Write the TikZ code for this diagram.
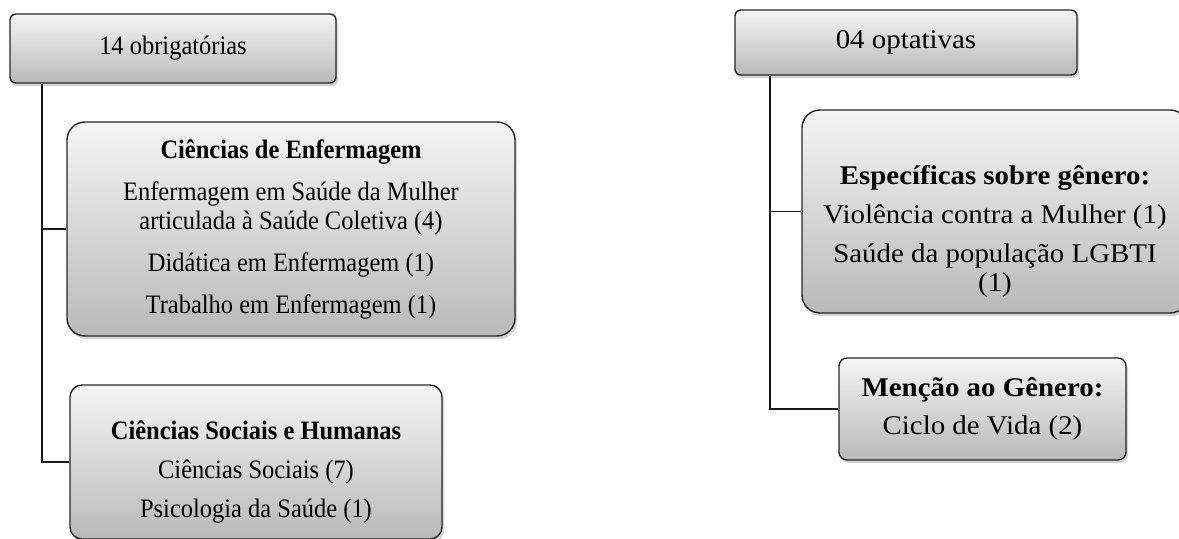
\documentclass[tikz,border=0pt]{standalone}
\usepackage{fontspec}
\setmainfont{Liberation Serif}
\newfontfamily\leftserif[FakeStretch=0.92]{Liberation Serif}
\newfontfamily\rightserif[FakeStretch=1.07]{Liberation Serif}
\usetikzlibrary{shadows}

\begin{document}
\begin{tikzpicture}[x=0.5pt, y=-0.5pt,
          catbox/.style={rectangle, draw=black!85, line width=0.7pt, top color=gray!8, bottom color=gray!55, drop shadow={shadow xshift=1pt, shadow yshift=-1.6pt, opacity=0.35}, inner sep=0pt},
          lefttext/.style={align=center, inner sep=0pt, font=\leftserif\fontsize{13.3}{14.5}\selectfont},
          righttext/.style={align=center, inner sep=0pt, font=\rightserif\fontsize{13.5}{14.5}\selectfont},
          link/.style={draw=black!90, line width=0.7pt}
        ]
          \clip (0,0) rectangle (1179,539);
          % left column
          \node (obrig) [catbox, rounded corners=3pt, minimum width=163pt, minimum height=34.5pt] at (173,48.5) {};
          \node (obrig-t) [lefttext] at (obrig.center) {14 obrigatórias};
          \node (enferm) [catbox, rounded corners=9pt, minimum width=224pt, minimum height=107pt] at (291,229) {};
          \node (enferm-t) [lefttext] at (enferm.center)
            {\textbf{Ciências de Enfermagem}\\[6.5pt]Enfermagem em Saúde da Mulher\\articulada à Saúde Coletiva (4)\\[6.5pt]Didática em Enfermagem (1)\\[6.5pt]Trabalho em Enfermagem (1)};
          \node (sociais) [catbox, rounded corners=6pt, minimum width=186pt, minimum height=77pt] at (256,462) {};
          \node (sociais-t) [lefttext, yshift=-5pt] at (sociais.center)
            {\textbf{Ciências Sociais e Humanas}\\[5pt]Ciências Sociais (7)\\[5pt]Psicologia da Saúde (1)};
          % right column
          \node (optat) [catbox, rounded corners=3pt, minimum width=171pt, minimum height=32.5pt] at (906,42.5) {};
          \node (optat-t) [righttext] at (optat.center) {04 optativas};
          \node (especif) [catbox, rounded corners=9pt, minimum width=193pt, minimum height=101.5pt] at (995,211.5) {};
          \node (especif-t) [righttext, yshift=-9.75pt] at (especif.center)
            {\textbf{Específicas sobre gênero:}\\[5pt]Violência contra a Mulher (1)\\[5pt]Saúde da população LGBTI\\(1)};
          \node (mencao) [catbox, rounded corners=4pt, minimum width=143.5pt, minimum height=51pt] at (982.5,409) {};
          \node (mencao-t) [righttext] at (mencao.center)
            {\textbf{Menção ao Gênero:}\\[4.5pt]Ciclo de Vida (2)};
          % connectors
          \coordinate (spineL) at (42,0);
          \coordinate (spineR) at (770,0);
          \draw [link] (obrig.south -| spineL) |- (enferm.west);
          \draw [link] (obrig.south -| spineL) |- (sociais.west);
          \draw [link] (optat.south -| spineR) |- (especif.west);
          \draw [link] (optat.south -| spineR) |- (mencao.west);
        \end{tikzpicture}
\end{document}
